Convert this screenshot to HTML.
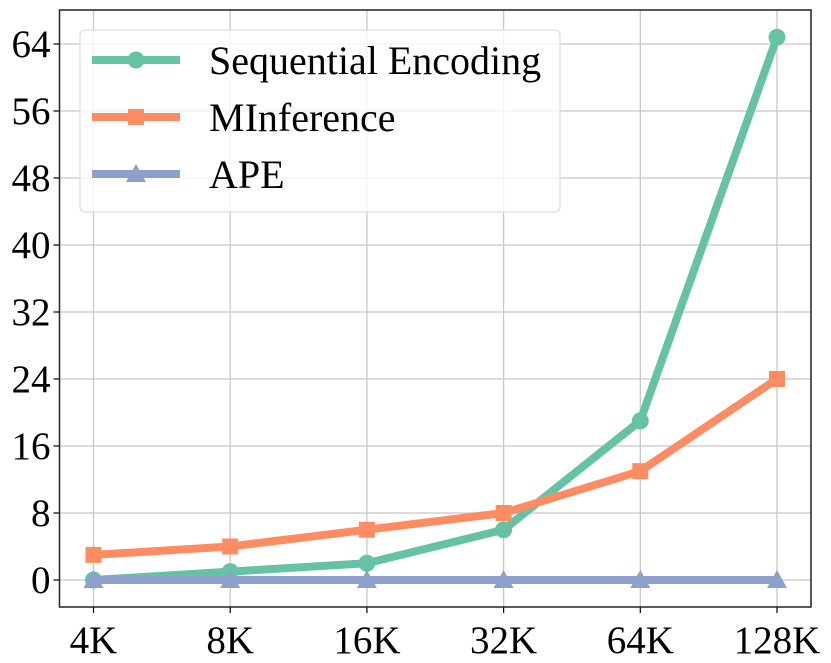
<!DOCTYPE html>
<html><head><meta charset="utf-8"><style>
body{margin:0;background:#fff}
svg{display:block;font-family:"Liberation Serif",serif}
</style></head><body>
<svg id="chart" width="831" height="663"></svg>
<script>
const categories=["4K","8K","16K","32K","64K","128K"];
const yTicks=[0,8,16,24,32,40,48,56,64];
const seqValues=[0,1,2,6,19,64.8];
const minfValues=[3,4,6,8,13,24];
const apeValues=[0,0,0,0,0,0];
const seriesNames=["Sequential Encoding","MInference","APE"];

const NS="http://www.w3.org/2000/svg";
const svg=document.getElementById('chart');
const L=59.5,R=811,T=10,B=607;
const x=i=>93.5+i*136.7;
const y=v=>580-v*(536/64);
function mk(tag,attrs,parent){const e=document.createElementNS(NS,tag);for(const k in attrs)e.setAttribute(k,attrs[k]);(parent||svg).appendChild(e);return e;}

yTicks.forEach(v=>{
  const g=mk('line',{x1:L,x2:R,y1:y(v),y2:y(v),stroke:'#c8c8c8','stroke-width':1.3});
  
  
  mk('line',{x1:L-6,x2:L,y1:y(v),y2:y(v),stroke:'#000','stroke-width':1.2});
  const t=mk('text',{x:L-9,y:y(v)+13,'text-anchor':'end','font-size':39});
  t.textContent=v;
  
  
});
categories.forEach((c,i)=>{
  const g=mk('line',{x1:x(i),x2:x(i),y1:T,y2:B,stroke:'#c8c8c8','stroke-width':1.3});
  
  
  mk('line',{x1:x(i),x2:x(i),y1:B,y2:B+6,stroke:'#000','stroke-width':1.2});
  const t=mk('text',{x:x(i),y:B+46,'text-anchor':'middle','font-size':39});
  t.textContent=c;
  
  
});
const frame=mk('rect',{x:L,y:T,width:R-L,height:B-T,fill:'none',stroke:'#222','stroke-width':1.5});



function marker(kind,cx,cy,color,parent){
  if(kind==='circle')return mk('circle',{cx:cx,cy:cy,r:8.5,fill:color},parent);
  if(kind==='square')return mk('rect',{x:cx-8,y:cy-8,width:16,height:16,fill:color},parent);
  return mk('polygon',{points:`${cx},${cy-10} ${cx+10},${cy+8} ${cx-10},${cy+8}`,fill:color},parent);
}
const series=[[seqValues,'#66c2a5','circle','series-sequential-encoding'],[minfValues,'#fc8d62','square','series-minference'],[apeValues,'#8da0cb','triangle','series-ape']];
series.forEach(([vals,color,kind,name])=>{
  const g=mk('g',{});
  
  
  mk('polyline',{points:vals.map((v,i)=>x(i)+','+y(v)).join(' '),fill:'none',stroke:color,'stroke-width':8,'stroke-linejoin':'round'},g);
  vals.forEach((v,i)=>{const m=marker(kind,x(i),y(v),color,g);});
});

const lg=mk('g',{});


mk('rect',{x:80,y:30,width:480,height:182,rx:5,fill:'rgba(255,255,255,0.8)',stroke:'#ddd','stroke-width':1.3},lg);
series.forEach(([vals,color,kind],i)=>{
  const cy=60+i*57;
  const e=mk('g',{},lg);
  
  
  mk('line',{x1:92,x2:180,y1:cy,y2:cy,stroke:color,'stroke-width':8},e);
  marker(kind,136,cy,color,e);
  const t=mk('text',{x:209,y:cy+14,'font-size':40},e);
  t.textContent=seriesNames[i];
});
</script>
</body></html>
